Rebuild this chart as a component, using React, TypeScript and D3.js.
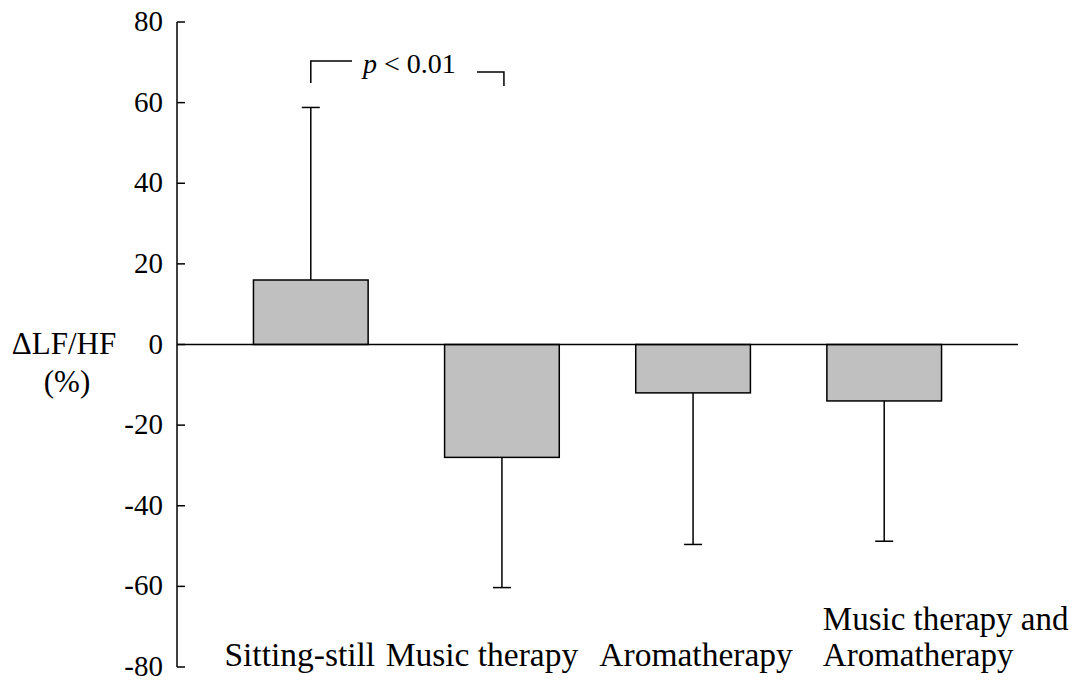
import React, { useEffect } from "react";
import * as d3 from "d3";

// chart data
const categories = ["Sitting-still", "Music therapy", "Aromatherapy", "Music therapy and\nAromatherapy"];
const means = [16, -28, -12, -14];
const errors = [42.8, 32.3, 37.6, 34.8];
const yTicks = [80, 60, 40, 20, 0, -20, -40, -60, -80];

const W = 1074;
const H = 682;
const FONT = "Liberation Serif";

const App = () => {
  useEffect(() => {
    document.body.style.margin = "0";
  }, []);

  const x = d3.scaleBand<string>().domain(categories).range([177, 1018]).paddingInner(0.4).paddingOuter(0.4);
  const y = d3.scaleLinear().domain([-80, 80]).range([667, 22]);
  const bw = x.bandwidth();
  const cap = 9;

  // label nudges so the texts sit like in the original figure
  const labelDx = [-11, -20, 3, 0];

  const cx = (i: number) => (x(categories[i]) as number) + bw / 2;

  return (
    <svg width={W} height={H} style={{ display: "block" }}>
      {/* y axis */}
      <line x1={177} x2={177} y1={y(80)} y2={y(-80)} stroke="#000" strokeWidth={1.5} />
      {yTicks.map((t) => (
        <g key={t}>
          <line x1={177} x2={185} y1={y(t)} y2={y(t)} stroke="#000" strokeWidth={1.5} />
          <text x={163} y={y(t) + 9} textAnchor="end" fontFamily={FONT} fontSize={29}>
            {t}
          </text>
        </g>
      ))}

      {/* y label */}
      <text x={64} y={354} textAnchor="middle" fontFamily={FONT} fontSize={31}>
        {"\u0394LF/HF"}
      </text>
      <text x={67} y={392} textAnchor="middle" fontFamily={FONT} fontSize={31}>
        (%)
      </text>

      {/* bars */}
      {categories.map((c, i) => {
        const v = means[i];
        const e = v >= 0 ? v + errors[i] : v - errors[i];
        return (
          <g key={c}>
            <line x1={cx(i)} x2={cx(i)} y1={y(v)} y2={y(e)} stroke="#000" strokeWidth={1.5} />
            <line x1={cx(i) - cap} x2={cx(i) + cap} y1={y(e)} y2={y(e)} stroke="#000" strokeWidth={1.5} />
            <rect
              x={x(c)}
              y={Math.min(y(v), y(0))}
              width={bw}
              height={Math.abs(y(v) - y(0))}
              fill="#c0c0c0"
              stroke="#000"
              strokeWidth={1.5}
            />
          </g>
        );
      })}

      {/* zero line */}
      <line x1={177} x2={1018} y1={y(0)} y2={y(0)} stroke="#000" strokeWidth={1.5} />

      {/* category labels */}
      {categories.map((c, i) => {
        const lines = c.split("\n");
        if (lines.length === 1) {
          return (
            <text key={c} x={cx(i) + labelDx[i]} y={666} textAnchor="middle" fontFamily={FONT} fontSize={33.5}>
              {c}
            </text>
          );
        }
        return (
          <text key={c} x={(x(c) as number) - 4} y={630} fontFamily={FONT} fontSize={33}>
            {lines.map((l, k) => (
              <tspan key={k} x={(x(c) as number) - 4} dy={k === 0 ? 0 : 36}>
                {l}
              </tspan>
            ))}
          </text>
        );
      })}

      {/* significance bracket */}
      <path d={`M${cx(0)},83 V61 H352`} fill="none" stroke="#000" strokeWidth={1.5} />
      <path d={`M477,72 H${cx(1) + 2} V86`} fill="none" stroke="#000" strokeWidth={1.5} />
      <text x={363} y={73} fontFamily={FONT} fontSize={28}>
        <tspan fontStyle="italic">p</tspan> {"<"} 0.01
      </text>
    </svg>
  );
};

export default App;
